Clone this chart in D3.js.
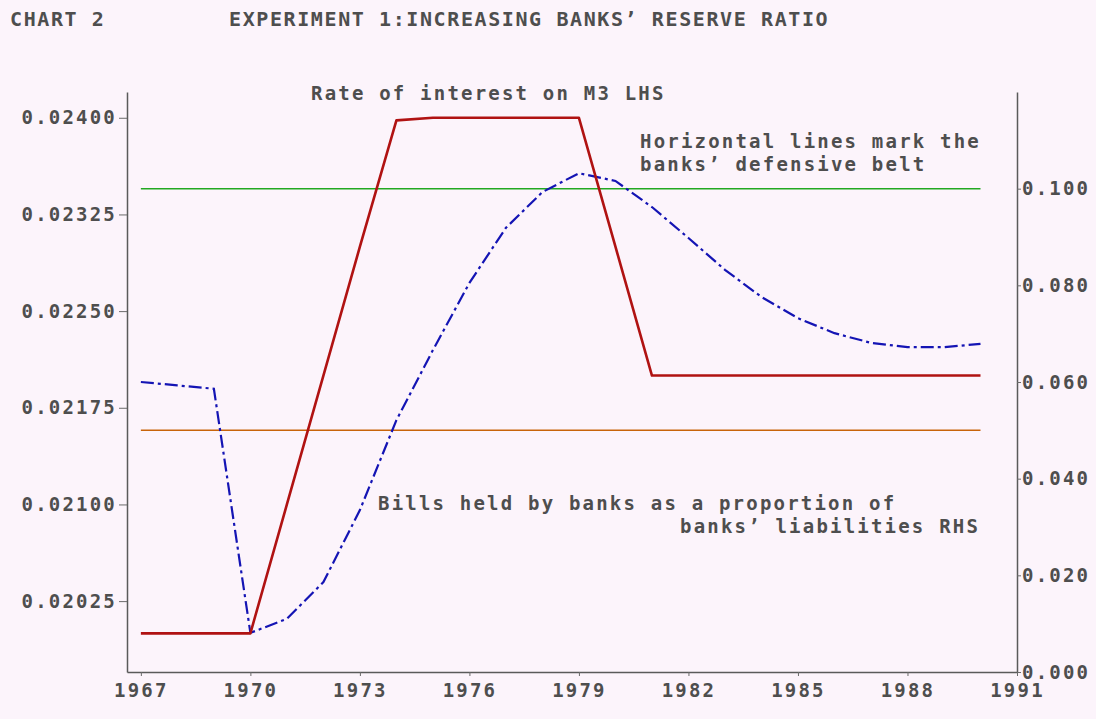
<!DOCTYPE html>
<html>
<head>
<meta charset="utf-8">
<script src="https://cdn.jsdelivr.net/npm/d3@7"></script>
<style>
  html, body { margin: 0; padding: 0; background: #fcf4fb; }
  svg { display: block; }
  text { font-family: "DejaVu Sans Mono", "Liberation Mono", monospace; font-weight: bold; fill: #4e4e4e; }
</style>
</head>
<body>
<svg id="chart" width="1096" height="719"></svg>
<script>
// ---- data ----
const years = [1967,1968,1969,1970,1971,1972,1973,1974,1975,1976,1977,1978,1979,1980,1981,1982,1983,1984,1985,1986,1987,1988,1989,1990];
const rateM3 = [0.0200,0.0200,0.0200,0.0200,0.0210,0.0220,0.0230,0.02398,0.0240,0.0240,0.0240,0.0240,0.0240,0.0230,0.0220,0.0220,0.0220,0.0220,0.0220,0.0220,0.0220,0.0220,0.0220,0.0220];
const billsRatio = [0.0600,0.0593,0.0586,0.0081,0.0110,0.0186,0.0335,0.0521,0.0666,0.0805,0.0919,0.0993,0.1032,0.1016,0.0962,0.0898,0.0832,0.0776,0.0732,0.0701,0.0681,0.0672,0.0672,0.0679];
const beltLevels = [0.10, 0.05];
const beltColors = ["#22a822", "#c8640a"];
const xTicks = [1967,1970,1973,1976,1979,1982,1985,1988,1991];
const leftTicks = [0.02025,0.02100,0.02175,0.02250,0.02325,0.02400];
const rightTicks = [0.000,0.020,0.040,0.060,0.080,0.100];

// ---- layout ----
const svg = d3.select("#chart");
const L = 127, R = 1017, T = 92, B = 672;
const x = d3.scaleLinear().domain([1966.62, 1991]).range([L, R]);
const yL = d3.scaleLinear().domain([0.0197, 0.0242]).range([B, T]);
const yR = d3.scaleLinear().domain([0, 0.12]).range([B, T]);

const fs = 19, ls = 2.2;

// axes
const axisStyle = g => {
  g.selectAll("path.domain").attr("stroke", "#5a5a5a").attr("stroke-width", 1.5);
  g.selectAll(".tick line").attr("stroke", "#6a6a6a").attr("stroke-width", 1);
  g.selectAll("text").attr("font-size", fs).attr("letter-spacing", ls)
    .attr("font-family", "DejaVu Sans Mono").attr("fill", "#4e4e4e").attr("font-weight", "bold");
};

svg.append("g").attr("transform", `translate(${L},0)`)
  .call(d3.axisLeft(yL).tickValues(leftTicks).tickSize(8).tickSizeOuter(0).tickPadding(2)
        .tickFormat(d3.format(".5f")))
  .call(axisStyle);

svg.append("g").attr("transform", `translate(${R},0)`)
  .call(d3.axisRight(yR).tickValues(rightTicks).tickSize(4).tickSizeOuter(0).tickPadding(1)
        .tickFormat(d3.format(".3f")))
  .call(axisStyle);

svg.append("g").attr("transform", `translate(0,${B})`)
  .call(d3.axisBottom(x).tickValues(xTicks).tickSize(4).tickSizeOuter(0).tickPadding(8)
        .tickFormat(d3.format("d")))
  .call(axisStyle);

// belt lines (RHS)
beltLevels.forEach((v, i) => {
  svg.append("path")
    .attr("d", d3.line()([[x(years[0]), yR(v)], [x(years[years.length - 1]), yR(v)]]))
    .attr("stroke", beltColors[i]).attr("stroke-width", 1.5).attr("fill", "none");
});

// bills ratio (RHS)
svg.append("path")
  .datum(years.map((yr, i) => [yr, billsRatio[i]]))
  .attr("d", d3.line().x(d => x(d[0])).y(d => yR(d[1])))
  .attr("fill", "none").attr("stroke", "#1414b4").attr("stroke-width", 2.2)
  .attr("stroke-dasharray", "13,4,3,4");

// rate of interest on M3 (LHS)
svg.append("path")
  .datum(years.map((yr, i) => [yr, rateM3[i]]))
  .attr("d", d3.line().x(d => x(d[0])).y(d => yL(d[1])))
  .attr("fill", "none").attr("stroke", "#b01212").attr("stroke-width", 2.6)
  .attr("stroke-linejoin", "round");

// texts
const txt = (s, px, py, size, spacing) =>
  svg.append("text").attr("x", px).attr("y", py).attr("font-size", size)
     .attr("letter-spacing", spacing).text(s);

txt("CHART 2", 10, 26, 20, 1.6);
txt("EXPERIMENT 1:INCREASING BANKS’ RESERVE RATIO", 229, 26, 20, 1.6);
txt("Rate of interest on M3 LHS", 311, 100, fs, ls);
txt("Horizontal lines mark the", 640, 148, fs, ls);
txt("banks’ defensive belt", 640, 171, fs, ls);
txt("Bills held by banks as a proportion of", 378, 510, fs, ls);
txt("banks’ liabilities RHS", 680, 533, fs, ls);
</script>
</body>
</html>
